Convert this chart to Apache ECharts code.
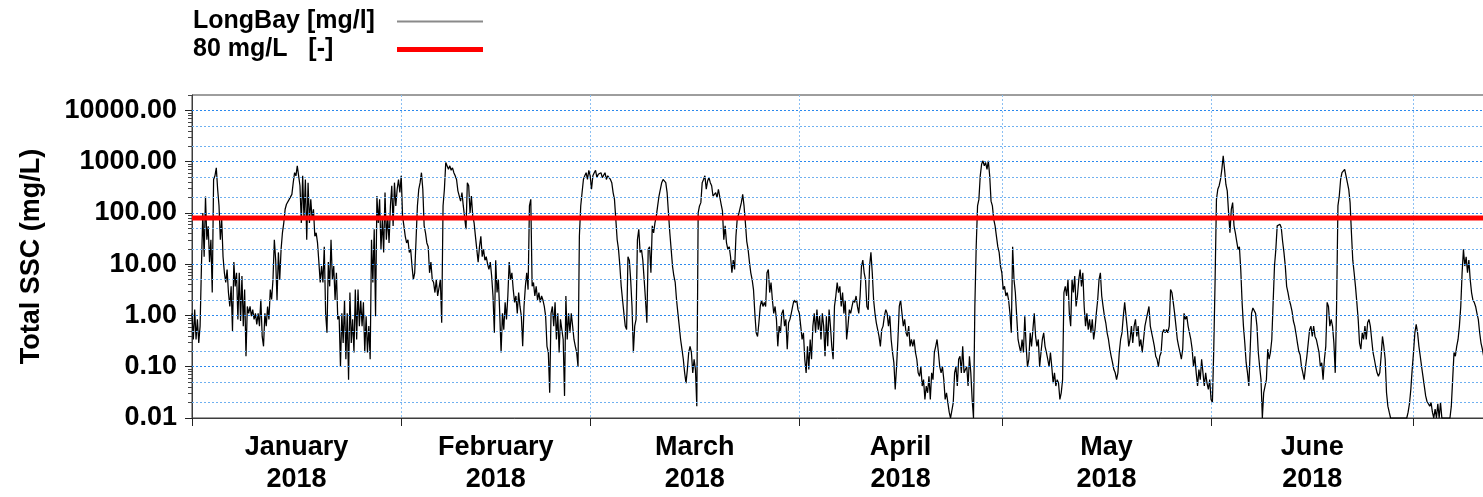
<!DOCTYPE html>
<html>
<head>
<meta charset="utf-8">
<script src="https://cdn.jsdelivr.net/npm/echarts@6/dist/echarts.min.js"></script>
<style>
  html, body { margin: 0; padding: 0; background: #ffffff; }
  #chart { width: 1483px; height: 497px; }
</style>
</head>
<body>
<div id="chart"></div>
<script>
// ---- Data -------------------------------------------------------------
const seriesName = 'LongBay [mg/l]';
const thresholdName = '80 mg/L   [-]';
const thresholdValue = 80;                       // mg/L
const startTime = Date.UTC(2018, 0, 1);          // first sample
const endTime = Date.UTC(2018, 6, 15);           // right end of time axis
const sampleStepHours = 4.8;                     // logger interval

// Total suspended sediment concentration at Long Bay (mg/L)
const ssc = [
  1.1, 0.34, 1.3, 0.34, 0.84, 0.29, 0.62, 9.2, 100, 14,
  210, 30, 55, 11, 30, 2.8, 450, 530, 760, 290,
  140, 30, 75, 14, 6.8, 4.4, 7.9, 2.8, 1.5, 3.7,
  0.5, 11, 3.7, 6.8, 0.84, 6.8, 0.78, 5.9, 0.62, 3.2,
  0.16, 1.5, 1.1, 1.5, 0.97, 1.3, 0.84, 1.1, 0.67, 1.1,
  0.62, 2.05, 0.39, 0.25, 1.1, 0.62, 1.5, 0.84, 3.2, 2.05,
  5, 30, 12, 2, 17, 5, 19.5, 41, 64, 118,
  148, 137, 184, 200, 230, 390, 610, 530, 830, 530,
  340, 64, 530, 75, 450, 30, 390, 64, 184, 75,
  118, 35, 41, 26, 11, 4.4, 9.2, 4.4, 22, 1.1,
  0.46, 11, 3.7, 30, 5, 9.2, 2, 6.8, 0.84, 0.97,
  0.1, 1.1, 0.29, 2, 0.14, 1.1, 0.056, 2.8, 0.29, 0.84,
  0.19, 3.2, 0.34, 3.2, 0.62, 2, 0.62, 1.8, 0.19, 0.97,
  0.19, 0.62, 0.14, 30, 4.4, 48, 0.97, 214, 64, 184,
  19.5, 75, 17, 250, 30, 87, 26, 137, 340, 56,
  390, 137, 290, 450, 250, 530, 87, 56, 35, 26,
  30, 17, 19.5, 9.2, 5, 6.8, 30, 137, 290, 390,
  610, 290, 56, 41, 26, 22, 6.8, 11, 5, 4.4,
  2.8, 5, 2.4, 2.4, 5, 0.72, 137, 290, 960, 900,
  710, 830, 680, 760, 610, 530, 450, 270, 290, 170,
  250, 137, 137, 48, 390, 340, 100, 214, 87, 64,
  35, 19.5, 11, 22, 35, 14, 19.5, 12, 14, 10,
  7.9, 11, 5.9, 2.4, 0.46, 12, 2.8, 5, 1.1, 0.19,
  1.1, 0.53, 1.8, 0.84, 2.4, 11, 5, 6.8, 3.2, 1.8,
  2.4, 1.1, 2.8, 1.5, 0.97, 0.25, 1.5, 3.7, 6.8, 3.2,
  137, 184, 3.7, 4.4, 2.4, 3.7, 2, 2.8, 1.8, 2.4,
  2, 1.5, 0.97, 0.25, 0.19, 0.031, 1.1, 1.5, 0.62, 1.8,
  0.34, 1.1, 0.19, 0.84, 0.53, 0.34, 0.027, 2.4, 0.34, 1.1,
  0.46, 1.1, 0.62, 0.34, 0.25, 0.19, 0.1, 35, 137, 250,
  450, 530, 610, 450, 680, 530, 290, 530, 610, 680,
  490, 570, 530, 610, 490, 530, 610, 450, 530, 570,
  450, 390, 250, 184, 75, 30, 19.5, 9.2, 3.7, 2,
  1.1, 0.62, 0.53, 14, 12, 5, 1.5, 0.19, 0.62, 0.84,
  30, 48, 17, 19.5, 12, 5, 2, 0.72, 19.5, 22,
  6.8, 56, 41, 64, 87, 137, 214, 290, 390, 450,
  490, 390, 250, 100, 41, 19.5, 9.2, 5.9, 4.4, 2,
  1.1, 0.62, 0.34, 0.22, 0.14, 0.076, 0.048, 0.088, 0.19, 0.25,
  0.19, 0.076, 0.14, 0.088, 0.017, 100, 137, 159, 390, 450,
  530, 290, 420, 490, 390, 340, 214, 200, 250, 200,
  290, 310, 148, 110, 30, 56, 26, 19.5, 22, 14,
  6.8, 12, 7.9, 35, 80, 94, 94, 159, 230, 137,
  64, 28, 19.5, 11, 6.8, 5, 3.2, 1.1, 0.46, 0.39,
  0.72, 1.5, 2, 1.5, 1.8, 1.5, 6.8, 7.9, 2.8, 4.4,
  2, 1.1, 1.5, 0.84, 0.25, 0.62, 0.46, 1.1, 1.3, 0.62,
  0.84, 0.22, 0.72, 0.84, 1.1, 1.5, 2, 1.8, 2, 1.3,
  1.1, 0.62, 0.34, 0.46, 0.14, 0.076, 0.25, 0.088, 0.34, 0.14,
  0.62, 1.1, 0.46, 1.3, 0.53, 0.97, 0.34, 1.1, 0.62, 0.16,
  0.97, 0.25, 1.3, 0.62, 0.25, 0.14, 1.5, 2.4, 4.4, 2.8,
  3.7, 1.5, 2.8, 1.1, 2, 0.34, 0.62, 1.3, 1.1, 1.5,
  2, 1.8, 2.4, 1.5, 1.1, 2.4, 9.2, 12, 6.8, 5,
  1.5, 1.3, 9.2, 17, 6.8, 2, 1.1, 0.72, 0.53, 0.39,
  0.25, 0.53, 0.62, 0.97, 1.3, 1.1, 0.62, 0.97, 0.34, 0.19,
  0.12, 0.036, 0.1, 0.34, 1.5, 2, 1.1, 0.62, 0.84, 0.46,
  0.39, 0.62, 0.25, 0.34, 0.25, 0.34, 0.19, 0.14, 0.076, 0.065,
  0.1, 0.042, 0.056, 0.023, 0.042, 0.031, 0.065, 0.023, 0.076, 0.056,
  0.19, 0.25, 0.34, 0.19, 0.1, 0.076, 0.1, 0.056, 0.023, 0.031,
  0.02, 0.013, 0.01, 0.01, 0.02, 0.076, 0.1, 0.042, 0.14, 0.16,
  0.076, 0.25, 0.076, 0.088, 0.1, 0.042, 0.16, 0.076, 0.023, 0.01,
  1.5, 22, 137, 184, 530, 890, 1040, 830, 960, 710,
  1040, 530, 170, 137, 75, 56, 35, 22, 17, 9.2,
  6.8, 3.2, 3.7, 2.4, 2.8, 2, 1.1, 0.46, 22, 5,
  2.8, 0.97, 0.34, 0.25, 0.19, 0.34, 0.19, 0.97, 0.25, 0.1,
  0.14, 0.46, 0.25, 0.53, 1.1, 0.39, 0.25, 0.34, 0.1, 0.19,
  0.34, 0.46, 0.25, 0.19, 0.14, 0.1, 0.19, 0.1, 0.048, 0.076,
  0.042, 0.056, 0.048, 0.023, 0.031, 0.056, 2.8, 3.7, 2.4, 5,
  1.1, 0.62, 5, 2.8, 5.9, 1.5, 2.4, 5, 7.9, 3.7,
  6.8, 1.5, 0.62, 1.1, 0.53, 0.84, 0.46, 0.84, 0.34, 0.53,
  1.1, 2, 5, 6.8, 2.4, 1.5, 0.97, 0.72, 0.46, 0.34,
  0.22, 0.16, 0.12, 0.088, 0.076, 0.056, 0.076, 0.19, 0.34, 0.46,
  0.97, 1.8, 0.97, 0.53, 0.25, 0.34, 0.62, 0.29, 0.62, 0.84,
  0.39, 0.62, 0.25, 0.34, 0.19, 0.34, 0.62, 0.84, 0.84, 1.5,
  0.62, 0.46, 0.34, 0.25, 0.16, 0.14, 0.1, 0.16, 0.19, 0.46,
  0.53, 0.46, 0.53, 0.46, 0.62, 3.2, 2.8, 1.8, 1.1, 0.62,
  0.34, 0.25, 0.19, 0.14, 0.22, 1.1, 0.84, 0.97, 0.62, 0.46,
  0.34, 0.22, 0.1, 0.16, 0.076, 0.042, 0.088, 0.056, 0.14, 0.076,
  0.042, 0.076, 0.048, 0.036, 0.056, 0.023, 0.02, 0.22, 5, 184,
  290, 340, 450, 710, 1300, 700, 360, 270, 100, 41,
  118, 159, 56, 41, 28, 19.5, 22, 7.9, 1.8, 0.62,
  0.29, 0.12, 0.076, 0.042, 0.22, 1.1, 1.4, 1.5, 1.1, 0.62,
  0.19, 0.1, 0.056, 0.01, 0.031, 0.042, 0.056, 0.22, 0.14, 0.19,
  0.34, 1.8, 9.2, 19.5, 56, 60, 60, 52, 28, 17,
  9.2, 3.7, 2.8, 2, 1.6, 1.2, 0.78, 0.62, 0.43, 0.29,
  0.2, 0.17, 0.1, 0.076, 0.056, 0.1, 0.16, 0.29, 0.53, 0.62,
  0.39, 0.62, 0.39, 0.34, 0.34, 0.19, 0.1, 0.12, 0.056, 0.14,
  0.25, 1.8, 1.5, 0.62, 0.84, 0.62, 0.29, 0.076, 1.5, 137,
  214, 450, 610, 570, 710, 530, 390, 290, 159, 41,
  12, 6.8, 3.7, 1.8, 0.84, 0.29, 0.22, 0.46, 0.34, 0.62,
  0.34, 0.72, 0.84, 0.62, 0.34, 0.19, 0.14, 0.1, 0.076, 0.065,
  0.076, 0.16, 0.39, 0.25, 0.14, 0.031, 0.017, 0.013, 0.01, 0.01,
  0.01, 0.01, 0.01, 0.01, 0.01, 0.01, 0.01, 0.01, 0.01, 0.01,
  0.01, 0.013, 0.019, 0.036, 0.088, 0.19, 0.46, 0.67, 0.46, 0.25,
  0.16, 0.1, 0.065, 0.042, 0.027, 0.021, 0.019, 0.017, 0.02, 0.013,
  0.01, 0.015, 0.01, 0.019, 0.01, 0.02, 0.01, 0.01, 0.01, 0.01,
  0.01, 0.01, 0.01, 0.017, 0.056, 0.19, 0.16, 0.25, 0.34, 0.62,
  1.5, 6.8, 19.5, 9.2, 14, 6.8, 12, 5, 2.8, 2,
  1.8, 1.5, 1.1, 0.84, 0.46, 0.29, 0.22, 0.16
];

// Month boundaries (ticks / vertical grid) and month captions (mid-month)
const monthStarts = ['2018-01-01', '2018-02-01', '2018-03-01', '2018-04-01',
                     '2018-05-01', '2018-06-01', '2018-07-01'];
const monthLabelDates = ['2018-01-16T12:00:00Z', '2018-02-15T00:00:00Z', '2018-03-16T12:00:00Z',
                         '2018-04-16T00:00:00Z', '2018-05-16T12:00:00Z', '2018-06-16T00:00:00Z'];
const monthLabels = ['January\n2018', 'February\n2018', 'March\n2018',
                     'April\n2018', 'May\n2018', 'June\n2018'];

// Log axis: decade values, and the 2/5 intermediate grid lines
const yMin = 0.01;
const yMax = 20000;
const decadeValues = [0.01, 0.1, 1, 10, 100, 1000, 10000];
const minorGridValues = [0.02, 0.05, 0.2, 0.5, 2, 5, 20, 50, 200, 500, 2000, 5000];
const minorTickValues = [];
decadeValues.forEach(function (d) {
  for (let m = 2; m <= 9; m++) {
    const v = +(d * m).toPrecision(3);
    if (v <= yMax) minorTickValues.push(v);
  }
});

// ---- Build series ----------------------------------------------------
const stepMs = sampleStepHours * 3600 * 1000;
const sscPoints = ssc.map(function (v, i) { return [startTime + i * stepMs, v]; });
const thresholdPoints = [[startTime, thresholdValue], [endTime, thresholdValue]];

const monthStartMs = monthStarts.map(function (s) { return Date.parse(s + 'T00:00:00Z'); });
const monthLabelMs = monthLabelDates.map(function (s) { return Date.parse(s); });

const FONT = '"Liberation Sans", Arial, sans-serif';
const chart = echarts.init(document.getElementById('chart'), null, { renderer: 'canvas' });

// dotted horizontal reference lines drawn through the y scale
function gridLines(values, color) {
  return {
    silent: true,
    symbol: ['none', 'none'],
    label: { show: false },
    lineStyle: { color: color, width: 1, type: [2, 2] },
    data: values.map(function (v) { return { yAxis: v }; }),
    animation: false
  };
}

chart.setOption({
  animation: false,
  backgroundColor: '#ffffff',
  legend: {
    orient: 'vertical',
    left: 193,
    top: 9,
    padding: 0,
    align: 'right',
    itemGap: 3,
    itemWidth: 86,
    itemHeight: 14,
    selectedMode: false,
    formatter: function (name) { return '{t|' + name + '}'; },
    textStyle: {
      rich: {
        t: {
          fontFamily: FONT, fontWeight: 'bold', fontSize: 25, color: '#000',
          width: 199, align: 'left', lineHeight: 28
        }
      }
    },
    data: [
      { name: seriesName, icon: 'path://M0,0 H86 V2 H0 Z', itemStyle: { color: '#8a8a8a' } },
      { name: thresholdName, icon: 'path://M0,0 H86 V5 H0 Z', itemStyle: { color: '#ff0000' } }
    ]
  },
  grid: {
    left: 192, top: 95, width: 1316, height: 323,
    outerBoundsMode: 'none',
    containLabel: false,
    show: true, borderColor: '#3c3c3c', borderWidth: 1, backgroundColor: '#ffffff'
  },
  xAxis: {
    type: 'value',
    min: startTime,
    max: endTime,
    axisLine: { show: true, lineStyle: { color: '#3c3c3c', width: 1 } },
    axisTick: {
      show: true, inside: false, length: 8, customValues: monthStartMs,
      lineStyle: { color: '#222', width: 1 }
    },
    splitLine: {
      show: true,
      lineStyle: { color: '#8cc0f3', width: 1, type: [2, 2] }
    },
    axisLabel: {
      customValues: monthLabelMs,
      margin: 14,
      fontFamily: FONT, fontWeight: 'bold', fontSize: 27, color: '#000', lineHeight: 32,
      formatter: function (v) {
        const i = monthLabelMs.indexOf(v);
        return i >= 0 ? monthLabels[i] : '';
      }
    }
  },
  yAxis: [
    {
      type: 'log',
      logBase: 10,
      min: yMin,
      max: yMax,
      name: 'Total SSC (mg/L)',
      nameLocation: 'middle',
      nameGap: 147,
      nameTextStyle: { fontFamily: FONT, fontWeight: 'bold', fontSize: 27, color: '#000' },
      axisLine: { show: true, lineStyle: { color: '#3c3c3c', width: 1 } },
      axisTick: { show: true, inside: false, length: 7, lineStyle: { color: '#222' } },
      splitLine: { show: false },
      minorSplitLine: { show: false },
      axisLabel: {
        margin: 15,
        showMaxLabel: false,
        padding: [5, 0, 0, 0],
        fontFamily: FONT, fontWeight: 'bold', fontSize: 27, color: '#000',
        formatter: function (v) { return Number(v).toFixed(2); }
      }
    },
    {
      type: 'log',
      logBase: 10,
      min: yMin,
      max: yMax,
      position: 'left',
      axisLine: { show: false },
      axisTick: { show: true, inside: false, length: 4, customValues: minorTickValues, lineStyle: { color: '#444' } },
      splitLine: { show: false },
      minorSplitLine: { show: false },
      axisLabel: { show: false }
    }
  ],
  series: [
    {
      name: 'minor-grid',
      type: 'line',
      data: [],
      silent: true,
      z: 1,
      markLine: gridLines(minorGridValues, '#6fb0f0')
    },
    {
      name: 'decade-grid',
      type: 'line',
      data: [],
      silent: true,
      z: 1,
      markLine: gridLines(decadeValues.slice(1), '#2a88ee')
    },
    {
      name: seriesName,
      type: 'line',
      data: sscPoints,
      symbol: 'none',
      showSymbol: false,
      sampling: null,
      z: 3,
      itemStyle: { color: '#000000' },
      lineStyle: { color: '#000000', width: 1.25 },
      emphasis: { disabled: true }
    },
    {
      name: thresholdName,
      type: 'line',
      data: thresholdPoints,
      symbol: 'none',
      showSymbol: false,
      z: 4,
      itemStyle: { color: '#ff0000' },
      lineStyle: { color: '#ff0000', width: 5 },
      emphasis: { disabled: true }
    }
  ]
});
</script>
</body>
</html>
